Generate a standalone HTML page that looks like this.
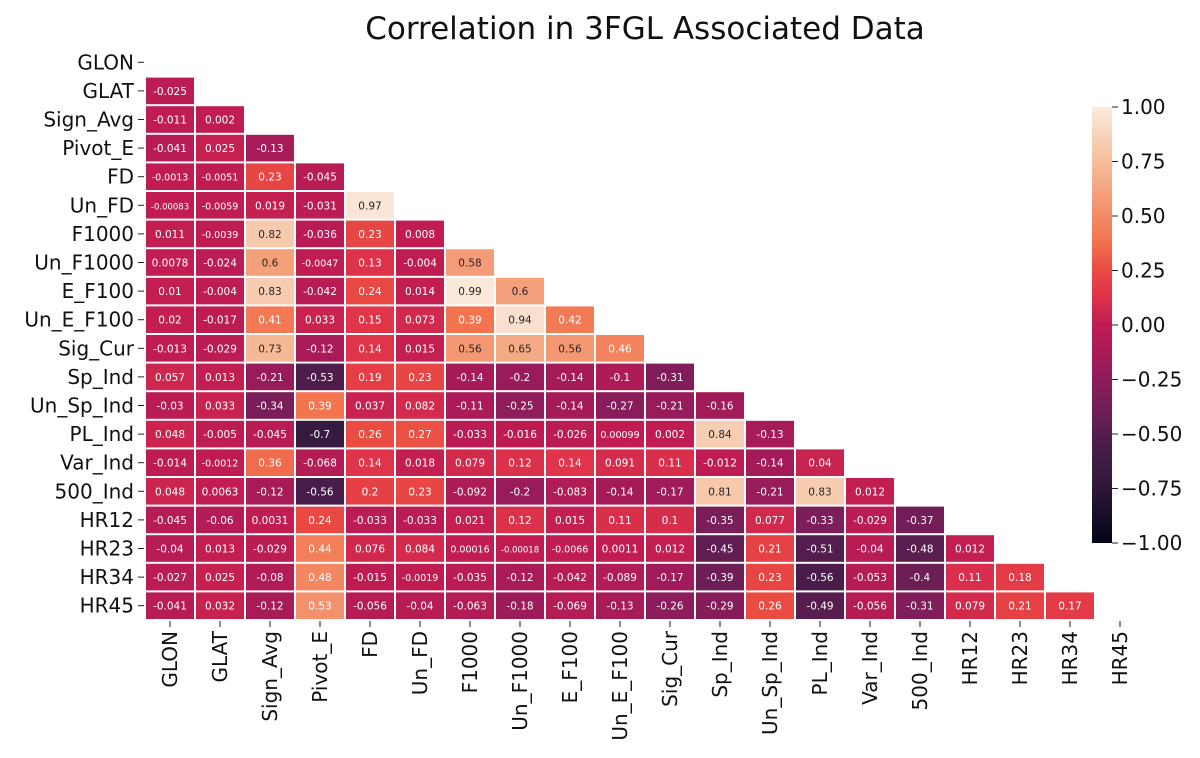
<!DOCTYPE html>
<html><head><meta charset="utf-8">
<style>
body{margin:0;background:#fff;width:1200px;height:754px;overflow:hidden;font-family:"DejaVu Sans","Liberation Sans",sans-serif;}
</style></head>
<body>
<svg id="chart" width="1200" height="754" xmlns="http://www.w3.org/2000/svg" font-family="DejaVu Sans, Liberation Sans, sans-serif">
<defs>
<linearGradient id="cbgrad" x1="0" y1="1" x2="0" y2="0">
<stop offset="0" stop-color="#03051A"/><stop offset="0.15" stop-color="#361A3F"/><stop offset="0.235" stop-color="#4E1D4B"/><stop offset="0.33" stop-color="#7A1E5A"/><stop offset="0.395" stop-color="#981B5B"/><stop offset="0.5" stop-color="#C01C52"/><stop offset="0.57" stop-color="#E0344A"/><stop offset="0.63" stop-color="#EB4C42"/><stop offset="0.695" stop-color="#F27550"/><stop offset="0.865" stop-color="#F5BA95"/><stop offset="0.985" stop-color="#FAE5D6"/><stop offset="1" stop-color="#FAEBDD"/>
</linearGradient>
</defs>
<text x="645" y="39" font-size="31" text-anchor="middle" fill="#111">Correlation in 3FGL Associated Data</text>
<g id="cells"></g>
<g id="ylabels"></g>
<g id="xlabels"></g>
<rect x="1092" y="107" width="20" height="436" fill="url(#cbgrad)"/>
<g id="cbticks"></g>
</svg>
<script>
const labels = ["GLON","GLAT","Sign_Avg","Pivot_E","FD","Un_FD","F1000","Un_F1000","E_F100","Un_E_F100","Sig_Cur","Sp_Ind","Un_Sp_Ind","PL_Ind","Var_Ind","500_Ind","HR12","HR23","HR34","HR45"];
const rowValues = [
[],
[-0.025],
[-0.011,0.002],
[-0.041,0.025,-0.13],
[-0.0013,-0.0051,0.23,-0.045],
[-0.00083,-0.0059,0.019,-0.031,0.97],
[0.011,-0.0039,0.82,-0.036,0.23,0.008],
[0.0078,-0.024,0.6,-0.0047,0.13,-0.004,0.58],
[0.01,-0.004,0.83,-0.042,0.24,0.014,0.99,0.6],
[0.02,-0.017,0.41,0.033,0.15,0.073,0.39,0.94,0.42],
[-0.013,-0.029,0.73,-0.12,0.14,0.015,0.56,0.65,0.56,0.46],
[0.057,0.013,-0.21,-0.53,0.19,0.23,-0.14,-0.2,-0.14,-0.1,-0.31],
[-0.03,0.033,-0.34,0.39,0.037,0.082,-0.11,-0.25,-0.14,-0.27,-0.21,-0.16],
[0.048,-0.005,-0.045,-0.7,0.26,0.27,-0.033,-0.016,-0.026,0.00099,0.002,0.84,-0.13],
[-0.014,-0.0012,0.36,-0.068,0.14,0.018,0.079,0.12,0.14,0.091,0.11,-0.012,-0.14,0.04],
[0.048,0.0063,-0.12,-0.56,0.2,0.23,-0.092,-0.2,-0.083,-0.14,-0.17,0.81,-0.21,0.83,0.012],
[-0.045,-0.06,0.0031,0.24,-0.033,-0.033,0.021,0.12,0.015,0.11,0.1,-0.35,0.077,-0.33,-0.029,-0.37],
[-0.04,0.013,-0.029,0.44,0.076,0.084,0.00016,-0.00018,-0.0066,0.0011,0.012,-0.45,0.21,-0.51,-0.04,-0.48,0.012],
[-0.027,0.025,-0.08,0.48,-0.015,-0.0019,-0.035,-0.12,-0.042,-0.089,-0.17,-0.39,0.23,-0.56,-0.053,-0.4,0.11,0.18],
[-0.041,0.032,-0.12,0.53,-0.056,-0.04,-0.063,-0.18,-0.069,-0.13,-0.26,-0.29,0.26,-0.49,-0.056,-0.31,0.079,0.21,0.17]
];
const cbTicks = [1.00,0.75,0.50,0.25,0.00,-0.25,-0.50,-0.75,-1.00];

const NS="http://www.w3.org/2000/svg";
const X0=145, CW=50, Y0=48, CH=28.6;
const cbTop=107, cbBot=543;
const stops=[[-1,[3,5,26]],[-0.7,[54,26,63]],[-0.53,[78,29,75]],[-0.34,[122,30,90]],[-0.21,[152,27,91]],[0,[192,28,82]],[0.14,[224,52,74]],[0.26,[235,76,66]],[0.39,[242,117,80]],[0.73,[245,186,149]],[0.97,[250,229,214]],[1,[250,235,221]]];
function cmap(v){v=Math.max(-1,Math.min(1,v));for(let i=0;i<stops.length-1;i++){const a=stops[i],b=stops[i+1];if(v<=b[0]){const r=(v-a[0])/(b[0]-a[0]);return [0,1,2].map(k=>Math.round(a[1][k]+(b[1][k]-a[1][k])*r));}}return stops[stops.length-1][1];}
function lum(c){const l=c.map(x=>{x/=255;return x<=0.03928?x/12.92:Math.pow((x+0.055)/1.055,2.4);});return 0.2126*l[0]+0.7152*l[1]+0.0722*l[2];}
const xScale=j=>X0+j*CW, yScale=i=>Y0+i*CH;
function mk(tag,attrs,parent){const e=document.createElementNS(NS,tag);for(const k in attrs)e.setAttribute(k,attrs[k]);parent.appendChild(e);return e;}
const gc=document.getElementById('cells');
rowValues.forEach((row,i)=>{row.forEach((v,j)=>{
  const c=cmap(v);
  const r=mk('rect',{x:xScale(j)+1,y:yScale(i)+1,width:CW-2,height:CH-2,fill:`rgb(${c})`},gc);
  
  
  const s=String(v);
  const t=mk('text',{x:xScale(j)+CW/2,y:yScale(i)+CH/2+4,'font-size':(s.length>7?8.5:(s.length>6?9.5:10.5)),'text-anchor':'middle',fill:lum(c)>0.408?'#262626':'#fff'},gc);
  t.textContent=s;
  
  
});});
const gy=document.getElementById('ylabels'), gx=document.getElementById('xlabels');
labels.forEach((l,i)=>{
  const yc=yScale(i)+CH/2;
  mk('line',{x1:138,x2:144,y1:yc,y2:yc,stroke:'#222','stroke-width':1},gy);
  const t=mk('text',{x:134,y:yc+7,'font-size':20,'text-anchor':'end',fill:'#111'},gy);
  t.textContent=l;
  
  
  const xc=xScale(i)+CW/2;
  mk('line',{x1:xc,x2:xc,y1:621,y2:627,stroke:'#222','stroke-width':1},gx);
  const tx=mk('text',{x:0,y:0,'font-size':20,'text-anchor':'end',fill:'#111',transform:`translate(${xc+7},631) rotate(-90)`},gx);
  tx.textContent=l;
  
  
});
const gt=document.getElementById('cbticks');
cbTicks.forEach(v=>{
  const y=cbBot-(v+1)/2*(cbBot-cbTop);
  mk('line',{x1:1112,x2:1118,y1:y,y2:y,stroke:'#222','stroke-width':1},gt);
  const t=mk('text',{x:1121,y:y+7,'font-size':20,fill:'#111'},gt);
  t.textContent=(v<0?'\u2212':'')+Math.abs(v).toFixed(2);
  
  
});
</script>
</body></html>
